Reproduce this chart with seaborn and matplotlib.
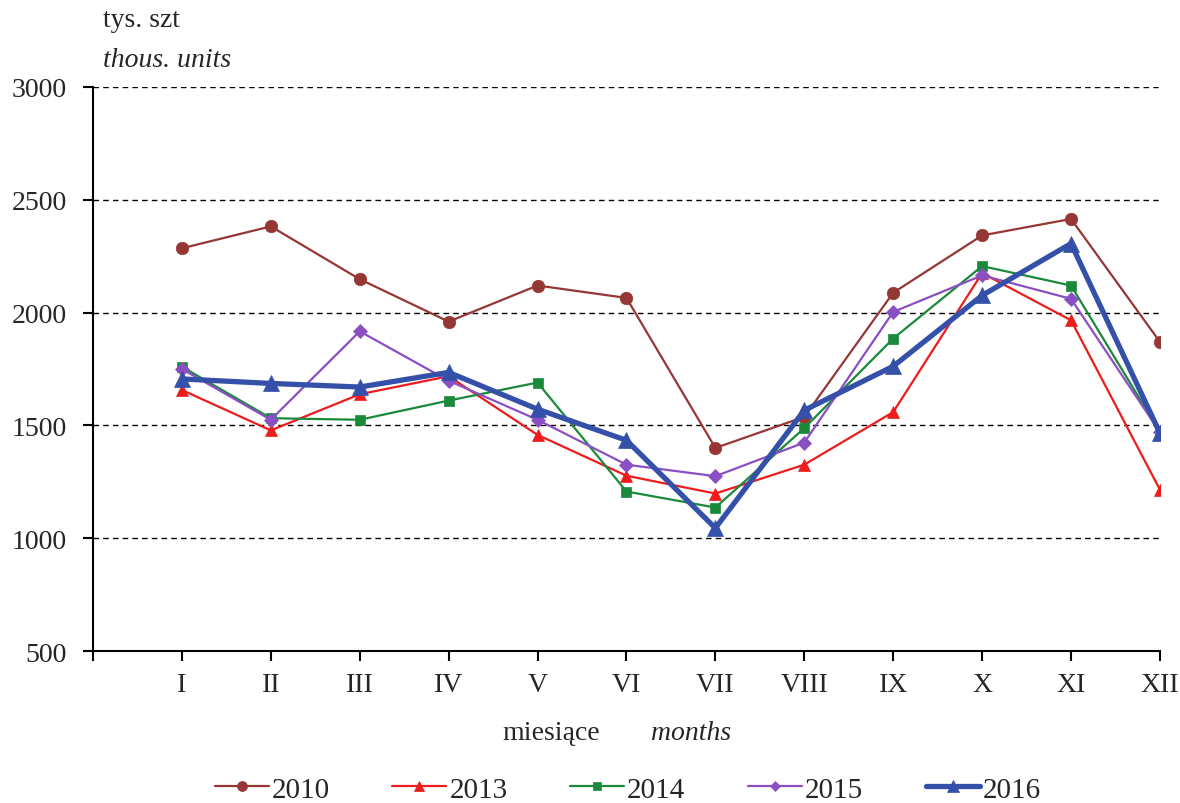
import pandas as pd
import seaborn as sns
from matplotlib import pyplot as plt

# miesiące / months
months = ["I", "II", "III", "IV", "V", "VI", "VII", "VIII", "IX", "X", "XI", "XII"]
month_pos = list(range(1, 13))

# tys. szt
y2010 = [2285, 2382, 2148, 1960, 2120, 2065, 1400, 1538, 2088, 2342, 2415, 1870]
y2013 = [1657, 1478, 1638, 1718, 1458, 1277, 1198, 1326, 1559, 2175, 1966, 1215]
y2014 = [1760, 1532, 1525, 1610, 1690, 1207, 1136, 1488, 1885, 2206, 2120, 1470]
y2015 = [1750, 1525, 1917, 1698, 1525, 1326, 1275, 1424, 2003, 2165, 2061, 1470]
y2016 = [1706, 1686, 1670, 1735, 1572, 1434, 1045, 1567, 1762, 2076, 2306, 1466]

series = {"2010": y2010, "2013": y2013, "2014": y2014, "2015": y2015, "2016": y2016}
df = pd.DataFrame([
    {"rok": k, "x": m, "val": v}
    for k, vals in series.items() for m, v in zip(month_pos, vals)
])

styles = {
    "2010": dict(color="#953735", marker="o", ms=9, lw=1.6),
    "2013": dict(color="#EE1C1C", marker="^", ms=9, lw=1.6),
    "2014": dict(color="#1A8A3A", marker="s", ms=6.5, lw=1.6),
    "2015": dict(color="#8A4FC2", marker="D", ms=7, lw=1.6),
    "2016": dict(color="#3450A8", marker="^", ms=11.5, lw=3.8),
}

sns.set_style("white")
plt.rcParams['font.family'] = ['Liberation Serif', 'DejaVu Serif']

fig = plt.figure(figsize=(11.8, 8.04), dpi=100)
ax = fig.add_axes([0.0788, 0.189, 0.9042, 0.7016])

for rok, st in styles.items():
    sns.lineplot(data=df[df["rok"] == rok], x="x", y="val", ax=ax, label=rok,
                 color=st["color"], marker=st["marker"], markersize=st["ms"],
                 linewidth=st["lw"], markeredgecolor=st["color"], markeredgewidth=0.5)

ax.set_xlim(0, 12)
ax.set_ylim(500, 3000)
ax.set_yticks(range(500, 3001, 500))
ax.set_xticks([0] + month_pos)
ax.set_xticklabels([""] + months)
ax.tick_params(axis="both", labelsize=20, direction="out", length=7, width=1.5,
               color="black", left=True, bottom=True)
ax.tick_params(axis="x", pad=8)
ax.tick_params(axis="y", pad=12)
for y in range(1000, 3001, 500):
    ax.axhline(y, color="black", ls=(0, (4, 3)), lw=1.0, zorder=0)
for s in ["top", "right"]:
    ax.spines[s].set_visible(False)
for s in ["left", "bottom"]:
    ax.spines[s].set_color("black")
    ax.spines[s].set_linewidth(1.5)
ax.set_xlabel("")
ax.set_ylabel("")

fig.text(0.087, 0.974, "tys. szt", fontsize=20, ha="left", va="center")
fig.text(0.087, 0.925, "thous. units", fontsize=20, style="italic", ha="left", va="center")
fig.text(0.426, 0.088, "miesiące", fontsize=20, ha="left", va="center")
fig.text(0.552, 0.088, "months", fontsize=20, style="italic", ha="left", va="center")

ax.legend(loc="center", bbox_to_anchor=(0.532, 0.017), bbox_transform=fig.transFigure,
          ncol=5, frameon=False, fontsize=21, handlelength=1.85, columnspacing=2.15,
          handletextpad=0.1, markerscale=0.8)

fig.savefig("out.png", dpi=100)
